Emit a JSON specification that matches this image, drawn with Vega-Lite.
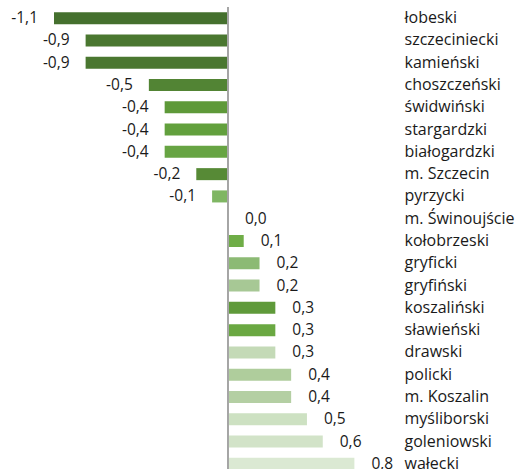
{
  "$schema": "https://vega.github.io/schema/vega-lite/v6.json",
  "autosize": "none",
  "width": 332,
  "height": 468,
  "padding": {"left": 54, "top": 7, "right": 137, "bottom": 0},
  "background": "white",
  "config": {
    "view": {"stroke": null},
    "locale": {"number": {"decimal": ",", "thousands": " ", "grouping": [3], "currency": ["", " zł"], "minus": "-"}},
    "font": "Open Sans"
  },
  "data": {"values": [
    {"powiat": "łobeski", "v": -1.1},
    {"powiat": "szczeciniecki", "v": -0.9},
    {"powiat": "kamieński", "v": -0.9},
    {"powiat": "choszczeński", "v": -0.5},
    {"powiat": "świdwiński", "v": -0.4},
    {"powiat": "stargardzki", "v": -0.4},
    {"powiat": "białogardzki", "v": -0.4},
    {"powiat": "m. Szczecin", "v": -0.2},
    {"powiat": "pyrzycki", "v": -0.1},
    {"powiat": "m. Świnoujście", "v": 0.0},
    {"powiat": "kołobrzeski", "v": 0.1},
    {"powiat": "gryficki", "v": 0.2},
    {"powiat": "gryfiński", "v": 0.2},
    {"powiat": "koszaliński", "v": 0.3},
    {"powiat": "sławieński", "v": 0.3},
    {"powiat": "drawski", "v": 0.3},
    {"powiat": "policki", "v": 0.4},
    {"powiat": "m. Koszalin", "v": 0.4},
    {"powiat": "myśliborski", "v": 0.5},
    {"powiat": "goleniowski", "v": 0.6},
    {"powiat": "wałecki", "v": 0.8}
  ]},
  "layer": [
    {
      "mark": {"type": "bar"},
      "encoding": {
        "y": {
          "field": "powiat", "type": "nominal", "sort": null,
          "scale": {"paddingInner": 0.46, "paddingOuter": 0.23},
          "axis": {"orient": "right", "title": null, "domain": false, "ticks": false, "labelPadding": 18, "labelAlign": "left", "labelFont": "Open Sans", "labelFontSize": 16, "labelColor": "#1a1a1a", "labelLimit": 200}
        },
        "x": {"field": "v", "type": "quantitative", "scale": {"domain": [-1.1, 1.0], "nice": false, "zero": false}, "axis": null},
        "color": {
          "field": "powiat", "type": "nominal", "legend": null,
          "scale": {
            "domain": ["łobeski","szczeciniecki","kamieński","choszczeński","świdwiński","stargardzki","białogardzki","m. Szczecin","pyrzycki","m. Świnoujście","kołobrzeski","gryficki","gryfiński","koszaliński","sławieński","drawski","policki","m. Koszalin","myśliborski","goleniowski","wałecki"],
            "range": ["#45702e","#4a7730","#4a7730","#528434","#5e9939","#62a03d","#67a443","#578a36","#7fb663","#70ad47","#6fad47","#8cba74","#a7c895","#5f9a3a","#6aa842","#c4dab7","#afcd9c","#b4cfa3","#cde1c2","#d2e3c8","#dbe9d3"]
          }
        }
      }
    },
    {
      "mark": {"type": "rule", "color": "#a6a6a6", "strokeWidth": 1.5},
      "encoding": {"x": {"datum": 0, "type": "quantitative"}}
    },
    {
      "transform": [{"filter": "datum.v < 0"}],
      "mark": {"type": "text", "align": "right", "baseline": "middle", "dx": -16, "fontSize": 15.5, "color": "#1a1a1a"},
      "encoding": {
        "y": {"field": "powiat", "type": "nominal", "sort": null},
        "x": {"field": "v", "type": "quantitative"},
        "text": {"field": "v", "type": "quantitative", "format": ".1f"}
      }
    },
    {
      "transform": [{"filter": "datum.v >= 0"}],
      "mark": {"type": "text", "align": "left", "baseline": "middle", "dx": 17, "fontSize": 15.5, "color": "#1a1a1a"},
      "encoding": {
        "y": {"field": "powiat", "type": "nominal", "sort": null},
        "x": {"field": "v", "type": "quantitative"},
        "text": {"field": "v", "type": "quantitative", "format": ".1f"}
      }
    }
  ]
}
